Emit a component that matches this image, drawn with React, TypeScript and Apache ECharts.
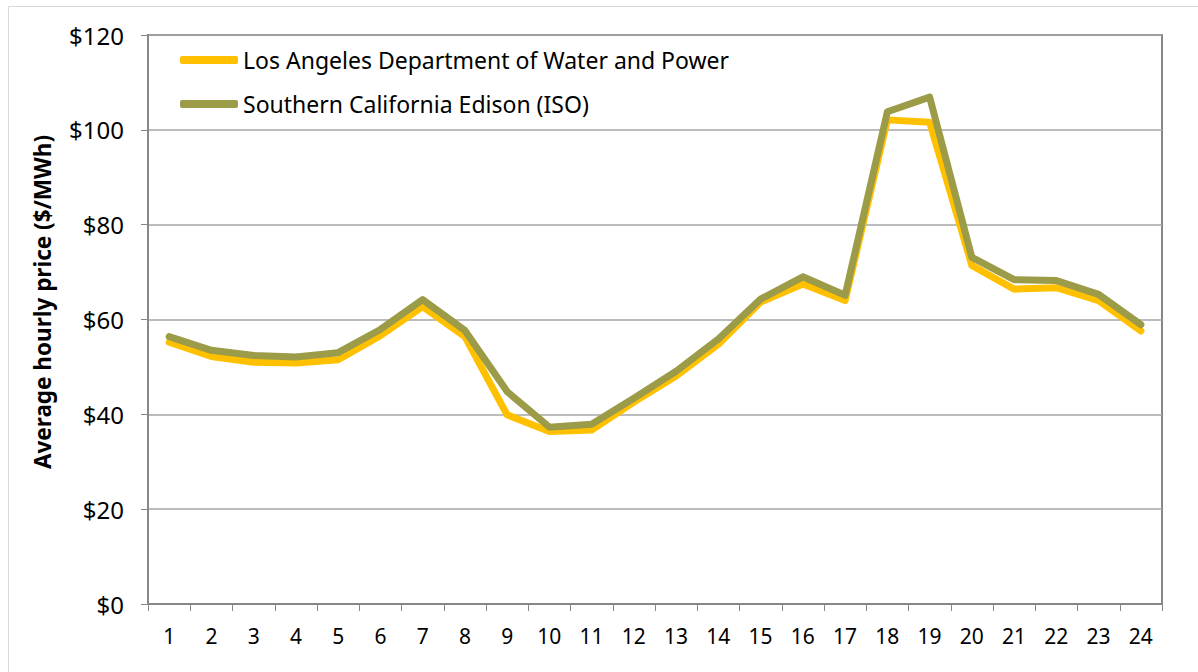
import React, { useEffect, useRef } from "react";
import * as echarts from "echarts";

const hours = ["1","2","3","4","5","6","7","8","9","10","11","12","13","14","15","16","17","18","19","20","21","22","23","24"];
const ladwp = [55.2, 52.2, 51.0, 50.8, 51.5, 56.6, 62.7, 56.4, 39.9, 36.4, 36.7, 42.6, 48.1, 54.8, 63.7, 67.5, 64.0, 102.1, 101.6, 71.4, 66.4, 66.7, 64.0, 57.6];
const sce = [56.4, 53.5, 52.4, 52.1, 53.0, 57.9, 64.2, 57.7, 44.8, 37.3, 37.9, 43.4, 49.1, 55.9, 64.3, 69.0, 65.1, 103.8, 106.9, 73.1, 68.4, 68.2, 65.3, 58.9];
const seriesNames = ["Los Angeles Department of Water and Power", "Southern California Edison (ISO)"];
const yAxisTitle = "Average hourly price ($/MWh)";
const yTicks = { min: 0, max: 120, interval: 20 };

export default function App() {
  const ref = useRef<HTMLDivElement>(null);
  useEffect(() => {
    if (!ref.current) return;
    const chart = echarts.init(ref.current, undefined, { renderer: "svg" });
    const font = "Noto Sans";
    chart.setOption({
      animation: false,
      backgroundColor: "#ffffff",
      graphic: [
        {
          type: "rect",
          shape: { x: 8.5, y: 6.5, width: 1200, height: 700 },
          style: { fill: "none", stroke: "#d9d9d9", lineWidth: 1 },
          silent: true,
        },
        {
          type: "text",
          x: 42,
          y: 302,
          rotation: Math.PI / 2,
          style: {
            text: yAxisTitle,
            fontFamily: font,
            fontSize: 22.5,
            fontWeight: "bold",
            fill: "#000",
            align: "center",
            verticalAlign: "middle",
          },
          silent: true,
        },
      ],
      grid: { left: 148, top: 35, width: 1014, height: 569, show: true, borderColor: "#878787", borderWidth: 2, backgroundColor: "transparent" },
      legend: {
        orient: "vertical",
        left: 175,
        top: 43,
        itemWidth: 58,
        itemHeight: 8,
        itemGap: 20,
        icon: "roundRect",
        textStyle: { fontFamily: font, fontSize: 23, color: "#000", lineHeight: 24 },
        data: seriesNames,
      },
      xAxis: {
        type: "category",
        data: hours,
        boundaryGap: true,
        axisLine: { lineStyle: { color: "#878787", width: 2 } },
        axisTick: { show: true, alignWithLabel: false, length: 7, lineStyle: { color: "#878787", width: 1 } },
        axisLabel: { fontFamily: font, fontSize: 21, color: "#000", margin: 21 },
        splitLine: { show: false },
      },
      yAxis: {
        type: "value",
        min: yTicks.min,
        max: yTicks.max,
        interval: yTicks.interval,
        axisLine: { show: true, lineStyle: { color: "#878787", width: 2 } },
        axisTick: { show: true, length: 7, lineStyle: { color: "#878787", width: 1 } },
        axisLabel: { fontFamily: font, fontSize: 24, color: "#000", margin: 24, formatter: (v: number) => "$" + v },
        splitLine: { show: true, lineStyle: { color: "#a6a6a6", width: 1.5 } },
      },
      series: [
        {
          name: seriesNames[0],
          type: "line",
          data: ladwp,
          symbol: "none",
          itemStyle: { color: "#FFC000" },
          lineStyle: { color: "#FFC000", width: 7, join: "round", cap: "round" },
        },
        {
          name: seriesNames[1],
          type: "line",
          data: sce,
          symbol: "none",
          itemStyle: { color: "#9B9B48" },
          lineStyle: { color: "#9B9B48", width: 7, join: "round", cap: "round" },
        },
      ],
    });
    return () => chart.dispose();
  }, []);
  return <div ref={ref} style={{ position: "absolute", left: 0, top: 0, width: 1198, height: 672 }} />;
}
